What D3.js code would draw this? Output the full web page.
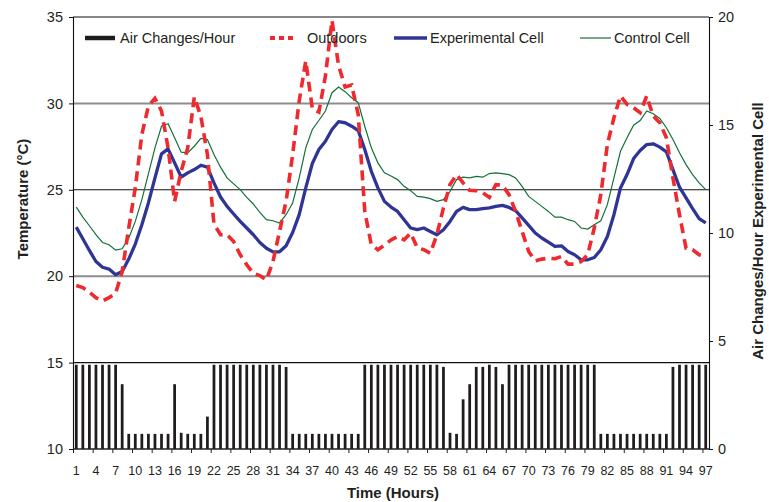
<!DOCTYPE html>
<html>
<head>
<meta charset="utf-8">
<script src="https://cdn.jsdelivr.net/npm/d3@7"></script>
<style>
  html, body { margin: 0; padding: 0; background: #fff; }
  svg { display: block; font-family: "Liberation Sans", Arial, sans-serif; }
</style>
</head>
<body>
<svg id="chart" width="769" height="502"></svg>
<script>
// Hourly readings, hours 1..97
const hours = d3.range(1, 98);

const airChanges = [
  3.9, 3.9, 3.9, 3.9, 3.9, 3.9, 3.9, 3.0, 0.7, 0.7,
  0.7, 0.7, 0.7, 0.7, 0.7, 3.0, 0.75, 0.7, 0.7, 0.7,
  1.5, 3.9, 3.9, 3.9, 3.9, 3.9, 3.9, 3.9, 3.9, 3.9,
  3.9, 3.9, 3.8, 0.7, 0.7, 0.7, 0.7, 0.7, 0.7, 0.7,
  0.7, 0.7, 0.7, 0.7, 3.9, 3.9, 3.9, 3.9, 3.9, 3.9,
  3.9, 3.9, 3.9, 3.9, 3.9, 3.9, 3.8, 0.75, 0.7, 2.3,
  3.0, 3.8, 3.8, 3.9, 3.8, 3.0, 3.9, 3.9, 3.9, 3.9,
  3.9, 3.9, 3.9, 3.9, 3.9, 3.9, 3.9, 3.9, 3.9, 3.9,
  0.7, 0.7, 0.7, 0.7, 0.7, 0.7, 0.7, 0.7, 0.7, 0.7,
  0.7, 3.8, 3.9, 3.9, 3.9, 3.9, 3.9
];

const outdoors = [
  19.46, 19.34, 19.07, 18.76, 18.57, 18.76, 19.01, 20.27, 22.79, 25.11,
  28.20, 29.85, 30.29, 29.56, 27.43, 24.33, 26.07, 27.43, 30.37, 29.26,
  27.04, 23.02, 22.40, 22.40, 22.01, 21.24, 20.66, 20.17, 20.04, 19.79,
  20.85, 22.59, 24.33, 27.04, 30.14, 32.46, 29.70, 29.50, 31.59, 34.80,
  32.20, 30.95, 31.06, 29.36, 23.75, 21.82, 21.53, 21.80, 22.10, 22.30,
  22.11, 22.50, 21.66, 21.53, 21.33, 22.40, 23.95, 25.30, 25.88, 25.40,
  24.97, 24.95, 24.82, 24.56, 25.30, 25.26, 24.72, 23.75, 22.59, 21.43,
  20.89, 20.99, 21.04, 21.01, 21.14, 20.70, 20.70, 20.85, 21.24, 22.79,
  24.72, 27.62, 29.17, 30.43, 29.94, 29.75, 29.46, 30.43, 29.26, 28.88,
  28.01, 25.69, 23.56, 21.62, 21.53, 21.24, 21.14
];

const experimental = [
  22.84, 22.17, 21.49, 20.85, 20.52, 20.41, 20.08, 20.27, 20.99, 21.86,
  22.98, 24.24, 25.69, 27.08, 27.37, 26.56, 25.74, 25.98, 26.17, 26.42,
  26.31, 25.40, 24.58, 24.04, 23.60, 23.17, 22.79, 22.40, 21.95, 21.62,
  21.41, 21.41, 21.76, 22.53, 23.56, 25.11, 26.52, 27.33, 27.81, 28.49,
  28.94, 28.88, 28.68, 28.43, 27.33, 26.07, 25.11, 24.33, 24.00, 23.75,
  23.27, 22.79, 22.69, 22.79, 22.59, 22.40, 22.69, 23.17, 23.75, 23.98,
  23.85, 23.85, 23.91, 23.95, 24.04, 24.10, 23.98, 23.79, 23.37, 22.94,
  22.50, 22.21, 21.97, 21.72, 21.76, 21.43, 21.24, 20.95, 20.95, 21.08,
  21.53, 22.30, 23.56, 25.11, 25.88, 26.81, 27.27, 27.62, 27.66, 27.47,
  27.20, 26.17, 25.15, 24.53, 23.91, 23.33, 23.08
];

const control = [
  24.00, 23.42, 22.92, 22.40, 21.95, 21.82, 21.51, 21.59, 22.20, 23.17,
  24.43, 25.92, 27.43, 28.68, 28.82, 28.01, 27.18, 27.14, 27.52, 27.97,
  27.91, 27.04, 26.31, 25.69, 25.34, 25.01, 24.56, 24.18, 23.69, 23.27,
  23.21, 23.08, 23.56, 24.24, 25.69, 27.43, 28.49, 29.01, 29.56, 30.62,
  30.95, 30.68, 30.33, 30.04, 28.68, 27.43, 26.56, 25.98, 25.80, 25.59,
  25.20, 24.95, 24.62, 24.58, 24.49, 24.33, 24.43, 24.91, 25.59, 25.73,
  25.69, 25.78, 25.73, 25.94, 25.98, 25.94, 25.88, 25.69, 25.20, 24.62,
  24.33, 24.04, 23.75, 23.42, 23.42, 23.27, 23.17, 22.79, 22.73, 22.98,
  23.21, 24.14, 25.69, 27.23, 28.01, 28.74, 29.01, 29.56, 29.40, 29.13,
  28.59, 27.91, 27.14, 26.46, 25.88, 25.40, 25.01
];

const tempTicks = [10, 15, 20, 25, 30, 35];
const achTicks = [0, 5, 10, 15, 20];
const hourLabels = d3.range(1, 98, 3);

const legendItems = [
  { label: "Air Changes/Hour", kind: "bar" },
  { label: "Outdoors", kind: "outdoors" },
  { label: "Experimental Cell", kind: "experimental" },
  { label: "Control Cell", kind: "control" }
];

const colors = {
  bar: "#1f1c1d",
  outdoors: "#ee2a2e",
  experimental: "#2f3595",
  control: "#14703a",
  gridGray: "#8d8d8d",
  text: "#231f20"
};

const M = { left: 73, right: 709, top: 17, bottom: 449 };
const svg = d3.select("#chart");

// Scales
const x = d3.scaleBand().domain(hours).range([M.left, M.right])
  .paddingInner(0.58).paddingOuter(0.29);
const cx = h => x(h) + x.bandwidth() / 2;
const xEdge = d3.scaleLinear().domain([0, 97]).range([M.left, M.right]);
const yT = d3.scaleLinear().domain([10, 35]).range([M.bottom, M.top]);
const yA = d3.scaleLinear().domain([0, 20]).range([M.bottom, M.top]);

// Horizontal reference lines
const gridStyle = { 20: [colors.gridGray, 2], 30: [colors.gridGray, 2], 25: ["#111", 1.1], 15: ["#111", 1.1], 35: ["#111", 1.1] };
svg.append("g").selectAll("line")
  .data([15, 20, 25, 30, 35])
  .join("line")
  .attr("x1", M.left).attr("x2", M.right)
  .attr("y1", d => yT(d)).attr("y2", d => yT(d))
  .attr("stroke", d => gridStyle[d][0])
  .attr("stroke-width", d => gridStyle[d][1]);

// Air change bars
svg.append("g").selectAll("rect")
  .data(hours)
  .join("rect")
  .attr("x", h => x(h))
  .attr("width", x.bandwidth())
  .attr("y", (h, i) => yA(airChanges[i]))
  .attr("height", (h, i) => yA(0) - yA(airChanges[i]))
  .attr("fill", colors.bar);

// Temperature lines
const line = series => d3.line()
  .x((d, i) => cx(hours[i]))
  .y(d => yT(d))(series);

svg.append("path").attr("d", line(control))
  .attr("fill", "none").attr("stroke", colors.control).attr("stroke-width", 1.2);
svg.append("path").attr("d", line(experimental))
  .attr("fill", "none").attr("stroke", colors.experimental).attr("stroke-width", 3.3)
  .attr("stroke-linejoin", "round");
svg.append("path").attr("d", line(outdoors))
  .attr("fill", "none").attr("stroke", colors.outdoors).attr("stroke-width", 3.6)
  .attr("stroke-dasharray", "10,6");

// Axes
const leftAxis = svg.append("g")
  .attr("transform", `translate(${M.left},0)`)
  .call(d3.axisLeft(yT).tickValues(tempTicks).tickSize(4).tickPadding(6));
const rightAxis = svg.append("g")
  .attr("transform", `translate(${M.right},0)`)
  .call(d3.axisRight(yA).tickValues(achTicks).tickSize(4).tickPadding(5));
[leftAxis, rightAxis].forEach(g => {
  g.select(".domain").attr("stroke", "#111").attr("stroke-width", 1.1);
  g.selectAll(".tick line").attr("stroke", "#111");
  g.selectAll(".tick text").attr("font-size", 14.5).attr("fill", colors.text)
    .attr("font-family", "Liberation Sans, Arial, sans-serif");
});

const bottomTicks = svg.append("g")
  .attr("transform", `translate(0,${M.bottom})`)
  .call(d3.axisBottom(xEdge).tickValues(d3.range(0, 97, 3)).tickSize(4).tickFormat(""));
bottomTicks.select(".domain").attr("stroke", "#222").attr("stroke-width", 1.3)
  .attr("d", `M${M.left},0H${M.right}`);
bottomTicks.selectAll(".tick line").attr("stroke", "#222");

svg.append("g").selectAll("text")
  .data(hourLabels)
  .join("text")
  .attr("x", h => cx(h))
  .attr("y", 475)
  .attr("text-anchor", "middle")
  .attr("font-size", 12.5)
  .attr("fill", colors.text)
  .text(h => h);

// Axis titles
svg.append("text")
  .attr("x", 393).attr("y", 498)
  .attr("text-anchor", "middle")
  .attr("font-size", 15).attr("font-weight", "bold").attr("fill", colors.text)
  .text("Time (Hours)");

svg.append("text")
  .attr("transform", "translate(28,199) rotate(-90)")
  .attr("text-anchor", "middle")
  .attr("font-size", 15).attr("font-weight", "bold").attr("fill", colors.text)
  .text("Temperature (°C)");

svg.append("text")
  .attr("transform", "translate(763,231) rotate(-90)")
  .attr("text-anchor", "middle")
  .attr("font-size", 15).attr("font-weight", "bold").attr("fill", colors.text)
  .text("Air Changes/Hour Experimental Cell");

// Legend
const legendPos = [
  { sx: 85, ex: 115, tx: 120 },
  { sx: 270, ex: 293, tx: 307 },
  { sx: 394, ex: 427, tx: 430 },
  { sx: 580, ex: 611, tx: 614 }
];
const legendY = 38;
const lg = svg.append("g");
legendItems.forEach((item, i) => {
  const p = legendPos[i];
  const sw = lg.append("line")
    .attr("x1", p.sx).attr("x2", p.ex)
    .attr("y1", legendY).attr("y2", legendY);
  if (item.kind === "bar") sw.attr("stroke", colors.bar).attr("stroke-width", 4.5);
  if (item.kind === "outdoors") sw.attr("stroke", colors.outdoors).attr("stroke-width", 4).attr("stroke-dasharray", "5,4");
  if (item.kind === "experimental") sw.attr("stroke", colors.experimental).attr("stroke-width", 3.3);
  if (item.kind === "control") sw.attr("stroke", colors.control).attr("stroke-width", 1.2);
  lg.append("text")
    .attr("x", p.tx).attr("y", legendY + 5)
    .attr("font-size", 14.5).attr("fill", colors.text)
    .text(item.label);
});
</script>
</body>
</html>
